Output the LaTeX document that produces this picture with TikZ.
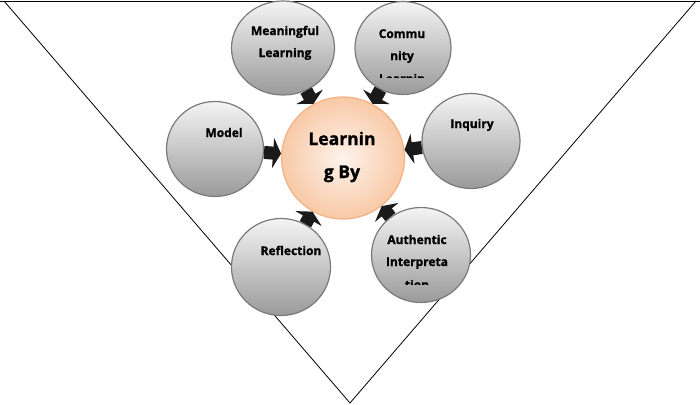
\documentclass[tikz,border=0pt]{standalone}
\usepackage{fontspec}
\setmainfont{Open Sans}[BoldFeatures={FakeBold=1.2}]
\usetikzlibrary{shapes.geometric,arrows.meta}
\definecolor{ringgray}{HTML}{7A7A7A}
\definecolor{bubtop}{HTML}{F4F4F4}
\definecolor{bubbot}{HTML}{9A9A9A}
\definecolor{peachline}{HTML}{F4B183}
\definecolor{peachin}{HTML}{FDF3EC}
\definecolor{peachout}{HTML}{F8C9A6}
\definecolor{arrowdark}{HTML}{1A1A1A}
\begin{document}
\begin{tikzpicture}[x=1pt,y=-1pt,
  bubble/.style={ellipse, draw=ringgray, line width=1.2pt, top color=bubtop, bottom color=bubbot, inner sep=0pt},
  hub/.style={ellipse, draw=peachline, line width=1.2pt, inner color=peachin, outer color=peachout, inner sep=0pt},
  lbl/.style={font=\fontsize{12}{14}\selectfont\bfseries, inner sep=0pt, anchor=base, text=black},
  biglbl/.style={font=\fontsize{17.5}{20}\selectfont\bfseries, inner sep=0pt, anchor=base},
  feed/.style={line width=13pt, draw=arrowdark, -{Triangle[width=30pt,length=8pt]}},
  frame/.style={line width=0.8pt, draw=black}
]
\useasboundingbox (0,0) rectangle (700,404);
% funnel
\coordinate (tl) at (0,1);
\coordinate (tr) at (700,1);
\coordinate (lt) at (4,1);
\coordinate (rt) at (696,1);
\coordinate (apex) at (350,403);
\draw[frame] (tl) -- (tr);
\draw[frame] (lt) -- (apex) -- (rt);
% circles
\node[bubble, minimum width=103pt, minimum height=94pt] (mean) at (283,48) {};
\node[bubble, minimum width=96pt, minimum height=93pt] (comm) at (403,48) {};
\node[bubble, minimum width=97pt, minimum height=95pt] (model) at (215,149) {};
\node[bubble, minimum width=98pt, minimum height=95pt] (inq) at (471,141) {};
\node[bubble, minimum width=99pt, minimum height=97pt] (refl) at (281,267) {};
\node[bubble, minimum width=99pt, minimum height=95pt] (auth) at (421,255) {};
\node[hub, minimum width=123pt, minimum height=122pt] (hub) at (343,158) {};
% arrows
\draw[feed] (mean) -- (hub);
\draw[feed] (comm) -- (hub);
\draw[feed] (model) -- (hub);
\draw[feed] (inq) -- (hub);
\draw[feed] (refl) -- (hub);
\draw[feed] (auth) -- (hub);
% labels
\node[lbl] (mean1) at (285,35) {Meaningful};
\node[lbl] (mean2) at (285,57) {Learning};
\node[lbl] (comm1) at (402,38) {Commu};
\node[lbl] (comm2) at (402,60) {nity};
\begin{scope}
  \clip (355,0) rectangle (451,77.5);
  \node[lbl] (comm3) at (402,83) {Learnin};
\end{scope}
\node[lbl] (model1) at (224,137) {Model};
\node[lbl] (inq1) at (472,128) {Inquiry};
\node[lbl] (refl1) at (291,255) {Reflection};
\node[lbl] (auth1) at (417,244) {Authentic};
\node[lbl] (auth2) at (417,266) {Interpreta};
\begin{scope}
  \clip (372,270) rectangle (471,284.5);
  \node[lbl] (auth3) at (417,289) {tion};
\end{scope}
\node[biglbl] (hub1) at (342,145) {Learnin};
\node[biglbl] (hub2) at (342,178) {g By};
\end{tikzpicture}
\end{document}
